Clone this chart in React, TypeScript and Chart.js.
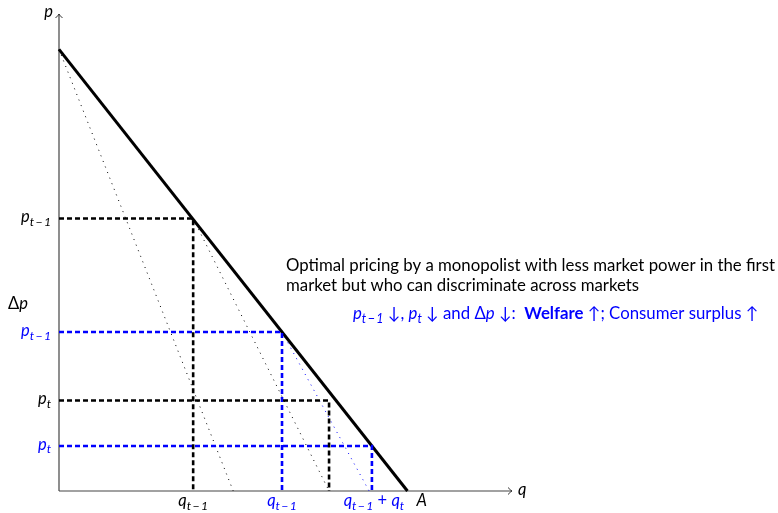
import React, { useEffect, useRef } from "react";
import { Chart, registerables } from "chart.js";

Chart.register(...registerables);

// ---- data (q = quantity, p = price) ----
const axisMax = [13, 10.8]; // [q max, p max]
const demandQ = [0, 10];
const demandP = [10, 0];
const mrFirstQ = [0, 5];
const mrFirstP = [10, 0];
// black case: [t-1, t]
const blackQ = [3.85, 7.75];
const blackP = [6.17, 2.05];
const blackMrEndQ = 7.75;
// blue case: [t-1, t]
const blueQ = [6.4, 8.98];
const blueP = [3.6, 1.02];
const blueMrEndQ = 8.9;
const marketSizeLabel = "A";
const titleLines = [
  "Optimal pricing by a monopolist with less market power in the first",
  "market but who can discriminate across markets",
];

const BLUE = "#0000ff";
const FONT = "Lato, 'DejaVu Sans', sans-serif";
const FS = 16.8;
const MATH_FS = 16.5;

type Part = { t: string; sub?: boolean; it?: boolean; bold?: boolean; size?: number };

function fontFor(p: Part, base: number) {
  const size = p.sub ? base * 0.74 : base;
  return `${p.it ? "italic " : ""}${p.bold ? "bold " : ""}${size}px ${FONT}`;
}

function drawRich(
  ctx: CanvasRenderingContext2D,
  x: number,
  y: number,
  parts: Part[],
  align: "left" | "right" | "center",
  color: string,
  base: number = MATH_FS
) {
  ctx.save();
  ctx.textBaseline = "alphabetic";
  ctx.textAlign = "left";
  let w = 0;
  for (const p of parts) {
    ctx.font = fontFor(p, base);
    w += ctx.measureText(p.t).width;
  }
  let cx = align === "left" ? x : align === "right" ? x - w : x - w / 2;
  ctx.fillStyle = color;
  for (const p of parts) {
    ctx.font = fontFor(p, base);
    ctx.fillText(p.t, cx, p.sub ? y + 3.5 : y);
    cx += ctx.measureText(p.t).width;
  }
  ctx.restore();
}

const SUB_PREV = "t\u2009\u2212\u20091";
const pts = (qs: number[], ps: number[]) => qs.map((q, i) => ({ x: q, y: ps[i] }));

const annotatePlugin = {
  id: "annotate",
  afterDatasetsDraw(chart: any) {
    const ctx: CanvasRenderingContext2D = chart.ctx;
    const xs = chart.scales.x;
    const ys = chart.scales.y;
    const X = (v: number) => xs.getPixelForValue(v);
    const Y = (v: number) => ys.getPixelForValue(v);
    const x0 = X(0);
    const y0 = Y(0);

    // arrow heads
    ctx.save();
    ctx.strokeStyle = "#333";
    ctx.lineWidth = 1;
    const xe = X(axisMax[0]);
    ctx.beginPath();
    ctx.moveTo(xe - 4, y0 - 3.5);
    ctx.quadraticCurveTo(xe - 1.5, y0 - 0.8, xe, y0);
    ctx.quadraticCurveTo(xe - 1.5, y0 + 0.8, xe - 4, y0 + 3.5);
    ctx.stroke();
    const ye = Y(axisMax[1]);
    ctx.beginPath();
    ctx.moveTo(x0 - 3.5, ye + 4);
    ctx.quadraticCurveTo(x0 - 0.8, ye + 1.5, x0, ye);
    ctx.quadraticCurveTo(x0 + 0.8, ye + 1.5, x0 + 3.5, ye + 4);
    ctx.stroke();
    ctx.restore();

    // axis names
    drawRich(ctx, x0 - 6, ye + 3, [{ t: "p", it: true }], "right", "#000");
    drawRich(ctx, xe + 6, y0 + 4, [{ t: "q", it: true }], "left", "#000");

    // price labels
    const lx = x0 - 8;
    const pPrev = (c: string, p: number) =>
      drawRich(ctx, lx, Y(p) + 4, [{ t: "p", it: true }, { t: SUB_PREV, it: true, sub: true }], "right", c);
    const pNow = (c: string, p: number) =>
      drawRich(ctx, lx, Y(p) + 4, [{ t: "p", it: true }, { t: "t", it: true, sub: true }], "right", c);
    pPrev("#000", blackP[0]);
    pPrev(BLUE, blueP[0]);
    pNow("#000", blackP[1]);
    pNow(BLUE, blueP[1]);
    drawRich(ctx, 8, (Y(blackP[0]) + Y(blackP[1])) / 2, [{ t: "\u0394" }, { t: "p", it: true }], "left", "#000");

    // quantity labels
    const qy = y0 + 15;
    drawRich(ctx, X(blackQ[0]), qy, [{ t: "q", it: true }, { t: SUB_PREV, it: true, sub: true }], "center", "#000");
    drawRich(ctx, X(blueQ[0]), qy, [{ t: "q", it: true }, { t: SUB_PREV, it: true, sub: true }], "center", BLUE);
    drawRich(
      ctx,
      X(blueQ[1]) + 2,
      qy,
      [
        { t: "q", it: true },
        { t: SUB_PREV, it: true, sub: true },
        { t: " + " },
        { t: "q", it: true },
        { t: "t", it: true, sub: true },
      ],
      "center",
      BLUE
    );
    drawRich(ctx, X(demandQ[1]) + 9, qy, [{ t: marketSizeLabel, it: true }], "left", "#000");

    // title text
    drawRich(ctx, 286, 271, [{ t: titleLines[0] }], "left", "#000", FS);
    drawRich(ctx, 286, 291, [{ t: titleLines[1] }], "left", "#000", FS);
    drawRich(
      ctx,
      353,
      319,
      [
        { t: "p", it: true },
        { t: SUB_PREV, it: true, sub: true },
        { t: " \u2193, " },
        { t: "p", it: true },
        { t: "t", it: true, sub: true },
        { t: " \u2193 and \u0394" },
        { t: "p", it: true },
        { t: " \u2193:  " },
        { t: "Welfare", bold: true },
        { t: " \u2191; Consumer surplus \u2191" },
      ],
      "left",
      BLUE,
      FS
    );
  },
};

export default function App() {
  const ref = useRef<HTMLCanvasElement>(null);
  useEffect(() => {
    if (!ref.current) return;
    const dash = [5, 3];
    const dot = [1, 5];
    const common = { pointRadius: 0, showLine: true, fill: false, clip: false as any, tension: 0 };
    const chart = new Chart(ref.current, {
      type: "scatter",
      data: {
        datasets: [
          // dashed guides black
          { ...common, data: [{ x: 0, y: blackP[0] }, { x: blackQ[0], y: blackP[0] }, { x: blackQ[0], y: 0 }], borderColor: "#000", borderWidth: 2.6, borderDash: dash },
          { ...common, data: [{ x: 0, y: blackP[1] }, { x: blackQ[1], y: blackP[1] }, { x: blackQ[1], y: 0 }], borderColor: "#000", borderWidth: 2.6, borderDash: dash },
          // dashed guides blue
          { ...common, data: [{ x: 0, y: blueP[0] }, { x: blueQ[0], y: blueP[0] }, { x: blueQ[0], y: 0 }], borderColor: BLUE, borderWidth: 2.6, borderDash: dash },
          { ...common, data: [{ x: 0, y: blueP[1] }, { x: blueQ[1], y: blueP[1] }, { x: blueQ[1], y: 0 }], borderColor: BLUE, borderWidth: 2.6, borderDash: dash },
          // demand
          { ...common, data: pts(demandQ, demandP), borderColor: "#000", borderWidth: 3 },
          // marginal revenue lines (dotted)
          { ...common, data: pts(mrFirstQ, mrFirstP), borderColor: "#000", borderWidth: 1, borderDash: dot },
          { ...common, data: [{ x: blackQ[0], y: blackP[0] }, { x: blackMrEndQ, y: 0 }], borderColor: "#000", borderWidth: 1, borderDash: dot },
          { ...common, data: [{ x: blueQ[0], y: blueP[0] }, { x: blueMrEndQ, y: 0 }], borderColor: BLUE, borderWidth: 1, borderDash: dot },
          // axes
          { ...common, data: [{ x: 0, y: 0 }, { x: axisMax[0], y: 0 }], borderColor: "#444", borderWidth: 1.2 },
          { ...common, data: [{ x: 0, y: 0 }, { x: 0, y: axisMax[1] }], borderColor: "#444", borderWidth: 1.2 },
        ],
      },
      options: {
        responsive: false,
        animation: false,
        events: [],
        layout: { padding: { left: 59, right: 266, top: 14, bottom: 22 } },
        scales: {
          x: { type: "linear", min: 0, max: axisMax[0], display: false },
          y: { type: "linear", min: 0, max: axisMax[1], display: false },
        },
        plugins: { legend: { display: false }, tooltip: { enabled: false } },
      },
      plugins: [annotatePlugin],
    });
    return () => chart.destroy();
  }, []);
  return (
    <div style={{ position: "fixed", left: 0, top: 0, width: 778, height: 513, background: "#fff" }}>
      <canvas ref={ref} width={778} height={513} style={{ width: 778, height: 513 }} />
    </div>
  );
}
